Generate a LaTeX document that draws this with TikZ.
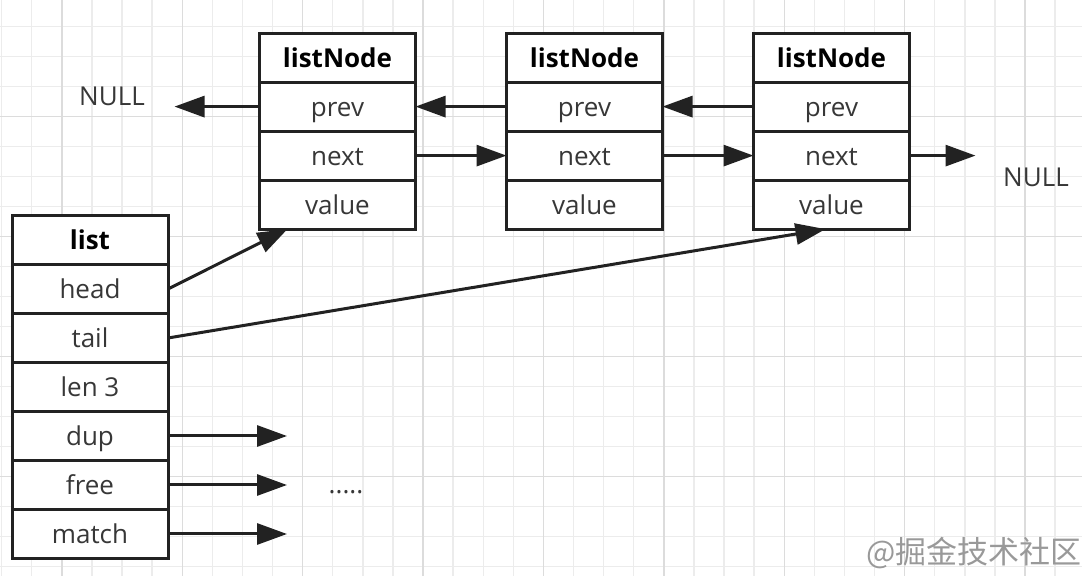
\documentclass[tikz,border=0pt]{standalone}
\usepackage{fontspec}
\setmainfont{Open Sans}
\newfontfamily\cjk{Noto Sans CJK SC}
\usetikzlibrary{positioning,arrows.meta}
\definecolor{GridMinor}{RGB}{236,236,236}
\definecolor{GridMajor}{RGB}{220,220,220}
\definecolor{LineDark}{RGB}{34,34,34}
\definecolor{TextGray}{RGB}{55,55,55}

\begin{document}
\begin{tikzpicture}[
x=0.5pt,y=-0.5pt,
node distance=0pt,
field/.style={rectangle,draw=LineDark,line width=1.5pt,fill=white,outer sep=0pt,inner sep=0pt,
minimum width=78pt,minimum height=24.5pt,text height=12.5pt,text depth=2.5pt,
font=\fontsize{13}{15}\selectfont,text=TextGray},
title/.style={field,font=\fontsize{13}{15}\selectfont\bfseries,text=black},
arrow/.style={-{Triangle[length=15pt,width=10.5pt]},line width=1.5pt,draw=LineDark},
nulltext/.style={font=\fontsize{13}{15}\selectfont,text=TextGray,inner sep=0pt},
gridminor/.style={draw=GridMinor,line width=0.7pt},
gridmajor/.style={draw=GridMajor,line width=0.7pt}
]
\useasboundingbox (0,0) rectangle (1082,576);
\clip (0,0) rectangle (1082,576);
\fill[white] (0,0) rectangle (1082,576);

% background grid
\foreach \k [evaluate=\k as \gx using {1.6+30.1*\k}] in {0,...,35}
  \draw[gridminor] (\gx,0) -- (\gx,576);
\foreach \k [evaluate=\k as \gy using {-3.3+30*\k}] in {1,...,19}
  \draw[gridminor] (0,\gy) -- (1082,\gy);
\foreach \k [evaluate=\k as \gx using {1.6+30.1*\k}] in {2,6,...,34}
  \draw[gridmajor] (\gx,0) -- (\gx,576);
\foreach \k [evaluate=\k as \gy using {-3.3+30*\k}] in {4,8,12,16}
  \draw[gridmajor] (0,\gy) -- (1082,\gy);

% list struct
\node[title] (lst) at (90,240) {list};
\node[field,below=of lst] (hd) {head};
\node[field,below=of hd] (tl) {tail};
\node[field,below=of tl] (len) {len 3};
\node[field,below=of len] (dup) {dup};
\node[field,below=of dup] (fre) {free};
\node[field,below=of fre] (mat) {match};

% list nodes
\node[title] (n1) at (337.5,57.6) {listNode};
\node[field,below=of n1] (p1) {prev};
\node[field,below=of p1] (x1) {next};
\node[field,below=of x1] (v1) {value};

\node[title,right=45.5pt of n1] (n2) {listNode};
\node[field,below=of n2] (p2) {prev};
\node[field,below=of p2] (x2) {next};
\node[field,below=of x2] (v2) {value};

\node[title,right=45.5pt of n2] (n3) {listNode};
\node[field,below=of n3] (p3) {prev};
\node[field,below=of p3] (x3) {next};
\node[field,below=of x3] (v3) {value};

\node[nulltext] (nl) at (112,96) {NULL};
\node[nulltext] (nr) at (1036,177) {NULL};
\node[nulltext] (dots) at (346,492) {.....};

\coordinate[left=42.5pt of p1] (nullL);
\coordinate[right=33pt of x3] (nullR);
\coordinate[right=59.5pt of dup] (dupend);
\coordinate[right=59.5pt of fre] (freend);
\coordinate[right=59.5pt of mat] (matend);

\draw[arrow] (p1.west) -- (nullL);
\draw[arrow] (p2.west) -- (p1.east);
\draw[arrow] (p3.west) -- (p2.east);
\draw[arrow] (x1.east) -- (x2.west);
\draw[arrow] (x2.east) -- (x3.west);
\draw[arrow] (x3.east) -- (nullR);
\draw[arrow] (hd.east) -- ([xshift=14pt]v1.south west);
\draw[arrow] (tl.east) -- ([xshift=-3pt]v3.south);
\draw[arrow] (dup.east) -- (dupend);
\draw[arrow] (fre.east) -- (freend);
\draw[arrow] (mat.east) -- (matend);

\node[anchor=west,inner sep=0pt,font=\cjk\fontsize{15.5}{18}\selectfont,text=gray!80] (wm) at (866,553) {@掘金技术社区};
\end{tikzpicture}
\end{document}
